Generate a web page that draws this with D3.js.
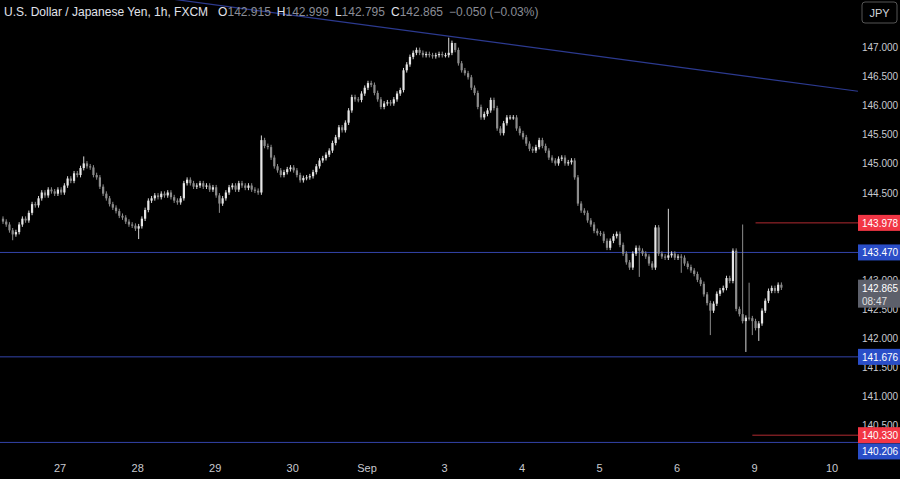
<!DOCTYPE html>
<html><head><meta charset="utf-8">
<script src="https://cdn.jsdelivr.net/npm/d3@7"></script>
<style>body{margin:0;background:#000;}svg{display:block;font-family:"Liberation Sans",Arial,sans-serif;}</style>
</head><body><svg id="c" width="900" height="479"></svg>
<script>
const closes = [
144.00,143.95,143.85,143.78,143.82,143.95,144.05,144.02,144.15,144.30,144.28,144.40,144.50,144.45,144.55,144.52,144.48,144.55,
144.50,144.62,144.74,144.70,144.83,144.80,144.92,145.00,144.95,144.93,144.80,144.76,144.60,144.48,144.40,144.30,144.24,144.18,144.10,144.07,144.00,143.95,143.93,143.88,
143.92,144.05,144.20,144.36,144.40,144.45,144.42,144.48,144.45,144.50,144.42,144.36,144.33,144.40,144.66,144.72,144.66,144.60,144.62,144.66,144.60,144.62,144.55,144.59,
144.45,144.31,144.40,144.50,144.59,144.62,144.55,144.66,144.62,144.58,144.62,144.55,144.53,144.50,145.40,145.30,145.28,145.10,144.95,144.88,144.80,144.85,144.90,144.93,
144.88,144.80,144.71,144.75,144.76,144.78,144.85,144.95,145.05,145.09,145.15,145.22,145.35,145.45,145.62,145.57,145.70,145.91,146.14,146.10,146.09,146.20,146.30,
146.38,146.35,146.21,146.10,145.97,146.03,146.05,146.03,146.10,146.20,146.26,146.60,146.70,146.83,146.90,146.95,146.90,146.86,146.88,146.86,146.84,146.86,146.88,146.86,
146.86,146.90,147.07,146.95,146.72,146.60,146.55,146.48,146.30,146.21,145.97,145.79,145.85,145.91,146.09,145.95,145.60,145.52,145.69,145.79,145.79,145.79,145.60,145.52,
145.45,145.34,145.25,145.22,145.28,145.40,145.30,145.22,145.10,145.05,145.00,145.08,145.10,145.00,145.02,145.05,144.76,144.31,144.19,144.15,144.02,143.95,143.84,143.80,
143.79,143.67,143.55,143.67,143.75,143.79,143.60,143.45,143.30,143.21,143.45,143.55,143.50,143.45,143.40,143.28,143.21,143.90,143.45,143.40,143.38,143.42,143.45,143.38,
143.40,143.38,143.28,143.22,143.16,143.10,143.00,142.93,142.75,142.60,142.47,142.59,142.76,142.82,142.86,143.03,142.98,143.50,142.50,142.41,142.29,142.35,142.34,142.29,
142.17,142.25,142.47,142.64,142.81,142.86,142.81,142.915,142.865
];
const firstOpen = 144.05;
const extremeHighs = {25:145.12, 80:145.48, 138:147.16, 206:144.22, 229:143.95, 231:142.95, 140:147.05};
const extremeLows = {3:143.68, 42:143.70, 219:142.05, 230:141.76, 232:142.05, 234:141.95, 67:144.15, 197:143.05, 210:143.12};
const dayLabels = ["27","28","29","30","Sep","3","4","5","6","9","10"];
const dayStarts = [18,42,66,90,113,137,161,185,209,233,257];
const axisTicks = [147.0,146.5,146.0,145.5,145.0,144.5,144.0,143.5,143.0,142.5,142.0,141.5,141.0,140.5];
const levels = [{v:143.470,c:"blue"},{v:141.676,c:"blue"},{v:140.206,c:"blue"}];
const shortLevels = [{v:143.978,from:233},{v:140.330,from:232}];
const trend = [{i:140,p:147.17},{i:264.7,p:146.24}];
const lastClose = 142.865, countdown = "08:47";

const svg = d3.select("#c");
const W=900,H=479,plotR=858;
const x = d3.scaleLinear().domain([0,241]).range([3,781.4]);
const y = d3.scaleLinear().domain([142,147]).range([338,47]);
const blue="#2a4ec8", red="#f23645";
const FS=10, TX=862;

levels.forEach(l=>svg.append("line").attr("x1",0).attr("x2",plotR).attr("y1",y(l.v)).attr("y2",y(l.v)).attr("stroke","#3344aa").attr("stroke-width",1));
shortLevels.forEach(l=>svg.append("line").attr("x1",x(l.from)).attr("x2",plotR).attr("y1",y(l.v)).attr("y2",y(l.v)).attr("stroke","#b02a30").attr("stroke-width",1));
svg.append("line").attr("x1",x(-80)).attr("y1",y(trend[0].p+(trend[1].p-trend[0].p)*(-80-trend[0].i)/(trend[1].i-trend[0].i)))
  .attr("x2",x(trend[1].i)).attr("y2",y(trend[1].p)).attr("stroke","#2c3a90").attr("stroke-width",1.2);

const bars = closes.map((c,i)=>{
  const o = i===0?firstOpen:closes[i-1];
  const h = extremeHighs[i]!==undefined?extremeHighs[i]:Math.max(o,c)+0.04;
  const l = extremeLows[i]!==undefined?extremeLows[i]:Math.min(o,c)-0.04;
  return {i,o,c,h,l};
});
const g = svg.append("g");
g.selectAll("line.w").data(bars).join("line").attr("x1",d=>x(d.i)).attr("x2",d=>x(d.i))
  .attr("y1",d=>y(d.h)).attr("y2",d=>y(d.l)).attr("stroke",d=>d.c>=d.o?"#d8d8d8":"#8c8c8c").attr("stroke-width",1);
g.selectAll("rect").data(bars).join("rect").attr("x",d=>x(d.i)-1.1).attr("width",2.2)
  .attr("y",d=>y(Math.max(d.o,d.c))).attr("height",d=>Math.max(1,Math.abs(y(d.o)-y(d.c))))
  .attr("fill",d=>d.c>=d.o?"#e6e6e6":"#8c8c8c");

svg.append("g").selectAll("text").data(axisTicks).join("text").attr("x",TX).attr("y",d=>y(d)+4)
  .attr("fill","#c8cad0").attr("font-size",FS).text(d=>d.toFixed(3));

function badge(yc,txt,fill,h=16){
  svg.append("rect").attr("x",858).attr("y",yc-h/2).attr("width",42).attr("height",h).attr("fill",fill);
  svg.append("text").attr("x",TX).attr("y",yc+4).attr("fill","#fff").attr("font-size",FS).text(txt);
}
badge(y(143.978),"143.978",red);
badge(y(143.470),"143.470",blue);
badge(y(141.676),"141.676",blue);
badge(y(140.330),"140.330",red);
badge(y(140.206)+9,"140.206",blue);
svg.append("rect").attr("x",858).attr("y",y(lastClose)-8).attr("width",42).attr("height",28).attr("fill","#5d606b");
svg.append("text").attr("x",TX).attr("y",y(lastClose)+4).attr("fill","#fff").attr("font-size",FS).text(lastClose.toFixed(3));
svg.append("text").attr("x",TX).attr("y",y(lastClose)+17).attr("fill","#e0e0e0").attr("font-size",FS).text(countdown);

svg.append("g").selectAll("text").data(dayLabels).join("text").attr("x",(d,k)=>x(dayStarts[k])-1).attr("y",472)
  .attr("text-anchor","middle").attr("fill","#c8cad0").attr("font-size",11).text(d=>d);

const hdr = svg.append("text").attr("x",4).attr("y",16).attr("font-size",12);
hdr.append("tspan").attr("fill","#e0e3eb").text("U.S. Dollar / Japanese Yen, 1h, FXCM");
[["O","142.915"],["H","142.999"],["L","142.795"],["C","142.865"]].forEach((p,k)=>{
  hdr.append("tspan").attr("fill","#e0e3eb").attr("dx",k===0?10:6).text(p[0]);
  hdr.append("tspan").attr("fill","#8a8d96").text(p[1]);
});
hdr.append("tspan").attr("fill","#8a8d96").attr("dx",6).text("−0.050 (−0.03%)");

svg.append("rect").attr("x",862).attr("y",2).attr("width",35).attr("height",21).attr("rx",3).attr("fill","#000").attr("stroke","#555");
svg.append("text").attr("x",879.5).attr("y",17).attr("text-anchor","middle").attr("fill","#d1d4dc").attr("font-size",11).text("JPY");
</script></body></html>
